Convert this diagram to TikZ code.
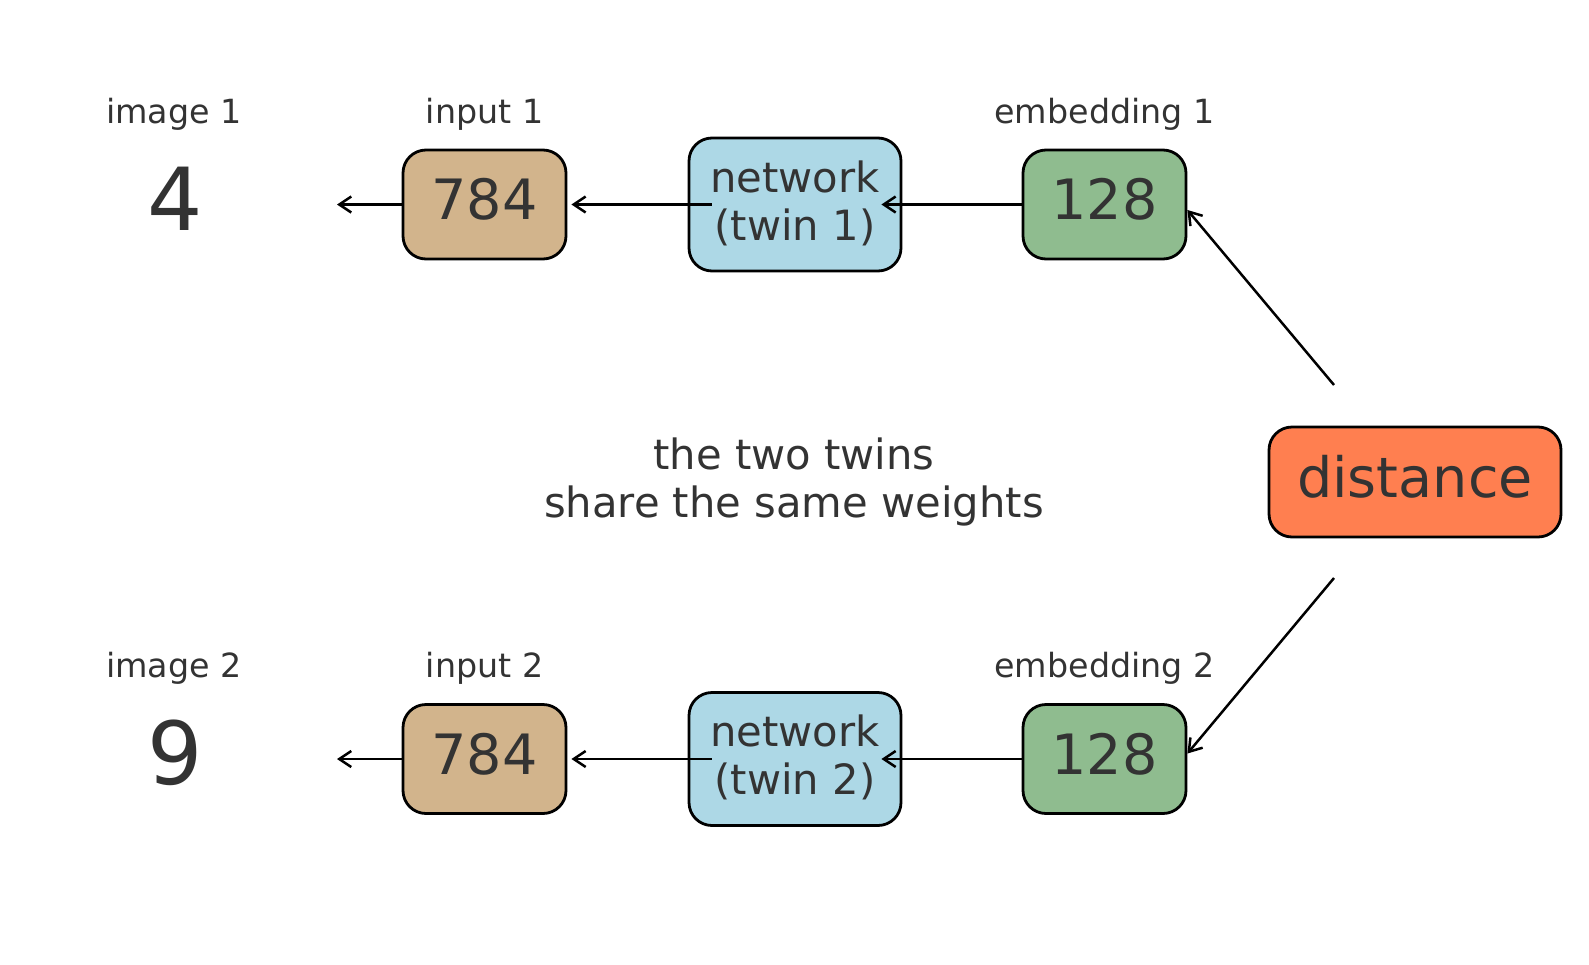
\documentclass[tikz,border=0pt]{standalone}
\usepackage{fontspec}
\setmainfont{DejaVu Sans}
\usetikzlibrary{arrows.meta}
\definecolor{txt}{HTML}{333333}
\definecolor{boxtan}{HTML}{D2B48C}
\definecolor{netblue}{HTML}{ADD8E6}
\definecolor{embgreen}{HTML}{8FBC8F}
\definecolor{distcoral}{HTML}{FF7F50}
\begin{document}
\begin{tikzpicture}[x=1pt,y=-1pt,
  box/.style={draw=black, line width=2.8pt, rounded corners=23pt, inner sep=0pt, text=txt},
  numbox/.style={box, minimum width=163pt, minimum height=109pt,
    font=\fontsize{55.6}{66}\selectfont, text height=42.3pt, text depth=11.6pt},
  netbox/.style={box, fill=netblue, minimum width=212pt, minimum height=133pt,
    align=center, font=\fontsize{41.7}{48}\selectfont},
  distbox/.style={box, fill=distcoral, minimum width=292pt, minimum height=110pt,
    font=\fontsize{55.6}{66}\selectfont, text height=42.3pt, text depth=11.6pt},
  lbl/.style={anchor=base, text=txt, inner sep=0pt, font=\fontsize{33.3}{40}\selectfont},
  digit/.style={anchor=base, text=txt, inner sep=0pt, font=\fontsize{87}{100}\selectfont},
  note/.style={text=txt, inner sep=0pt, align=center, font=\fontsize{41.7}{48}\selectfont},
  arr/.style={draw=black, line width=2.5pt, -{Straight Barb[length=12pt,width=16pt]}}
]
\useasboundingbox (0,0) rectangle (1589,964);

% labels
\node[lbl] (limg1) at (174,123) {image 1};
\node[lbl] (linp1) at (484.5,123) {input 1};
\node[lbl] (lemb1) at (1104.5,123) {embedding 1};
\node[lbl] (limg2) at (174,677.5) {image 2};
\node[lbl] (linp2) at (484.5,677.5) {input 2};
\node[lbl] (lemb2) at (1104.5,677.5) {embedding 2};

% digits
\node[digit] (img1) at (175,230) {4};
\node[digit] (img2) at (175,784.5) {9};

% top row
\node[numbox, fill=boxtan] (in1) at (484.5,204.5) {784};
\node[netbox] (net1) at (795,204.5) {network\\(twin 1)\vphantom{p}};
\node[numbox, fill=embgreen] (emb1) at (1104.5,204.5) {128};

% bottom row
\node[numbox, fill=boxtan] (in2) at (484.5,759) {784};
\node[netbox] (net2) at (795,759) {network\\(twin 2)\vphantom{p}};
\node[numbox, fill=embgreen] (emb2) at (1104.5,759) {128};

% distance
\node[distbox] (dist) at (1415,482) {distance};

% note
\node[note] (shared) at (794,482) {the two twins\\share the same weights};

% free ends
\coordinate (out1) at (337,204.5);
\coordinate (out2) at (337,759);
\coordinate (d1) at (1334,385);
\coordinate (d2) at (1334,578);

% arrows
\draw[arr] (in1.west) -- (out1);
\draw[arr] ([xshift=24pt]net1.west) -- ([xshift=4pt]in1.east);
\draw[arr] (emb1.west) -- ([xshift=-21pt]net1.east);
\draw[arr] (d1) -- ([yshift=-5.5pt]emb1.east);

\draw[arr] (in2.west) -- (out2);
\draw[arr] ([xshift=24pt]net2.west) -- ([xshift=4pt]in2.east);
\draw[arr] (emb2.west) -- ([xshift=-21pt]net2.east);
\draw[arr] (d2) -- ([yshift=5.5pt]emb2.east);
\end{tikzpicture}
\end{document}
